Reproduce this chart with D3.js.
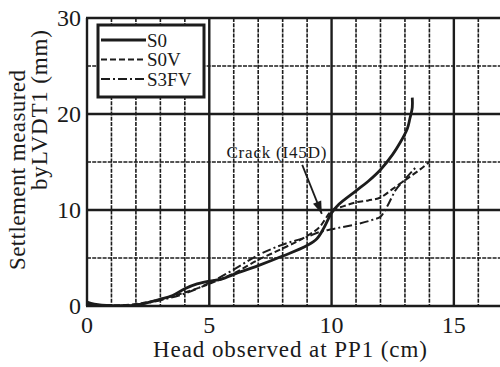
<!DOCTYPE html>
<html>
<head>
<meta charset="utf-8">
<script src="https://cdn.jsdelivr.net/npm/d3@7"></script>
<style>
    body { margin: 0; background: white; }
    svg text { font-family: "Liberation Serif", "Times New Roman", Tinos, Times, serif; fill: #1a1a1a; }
</style>
</head>
<body>
<svg id="grafica"></svg>
<script>
/**
 * Datos (x: cm, y: mm)
 */
const s0X = [0, 0.3, 1, 2, 3, 3.5, 4, 4.5, 5, 5.5, 6, 7, 8, 9, 9.4, 9.7, 10, 10.3, 11, 11.5, 12, 12.5, 12.8, 13.1, 13.2, 13.3, 13.3];
const s0Y = [0.4, 0.2, 0.05, 0.1, 0.7, 1.1, 1.8, 2.3, 2.6, 2.8, 3.3, 4.2, 5.2, 6.3, 7.0, 8.2, 9.7, 10.6, 12.0, 13.0, 14.2, 15.8, 17.0, 18.5, 19.5, 20.7, 21.7];

const s0vX = [0, 1, 2, 3, 4, 5, 6, 7, 8, 9, 9.5, 10, 10.5, 11, 11.5, 12, 12.5, 13, 13.5, 14];
const s0vY = [0.2, 0.05, 0.2, 0.7, 1.4, 2.3, 3.4, 4.8, 6.0, 7.3, 8.2, 9.9, 10.4, 10.8, 11.0, 11.3, 12.2, 13.1, 14.0, 15.0];

const s3fvX = [0, 1, 2, 3, 4, 5, 6, 7, 8, 9, 9.5, 10, 11, 11.7, 12, 12.3, 12.6, 13, 13.5];
const s3fvY = [0.2, 0, 0.15, 0.6, 1.3, 2.4, 3.8, 5.3, 6.4, 7.2, 7.7, 8.0, 8.5, 9.0, 9.3, 10.5, 12.0, 13.2, 14.6];

const xTicks = [0, 5, 10, 15];
const yTicks = [0, 10, 20, 30];
const xMinor = [1, 2, 3, 4, 6, 7, 8, 9, 11, 12, 13, 14, 16, 17];
const yMinor = [5, 15, 25];

const seriesNames = ['S0', 'S0V', 'S3FV'];
const seriesDash = [null, '6,3', '9,3,2,3'];
const seriesWidth = [2.8, 2, 2];

// flecha de la grieta: [inicio, punta] en unidades de datos
const crackArrow = [[8.8, 14.7], [9.6, 9.6]];
const crackLabel = { x: 5.7, y: 15.4, texto: 'Crack (I45D)' };

function graficar(svgId, ancho, alto) {

    /**
     * svg y escalas
     */
    const svg = d3.select('#' + svgId)
        .attr('width', ancho)
        .attr('height', alto)
        .attr('font-family', '"Liberation Serif", "Times New Roman", serif')
        .style('background-color', 'white');

    const x = d3.scaleLinear().domain([0, 17.5]).range([87, 515]);
    const y = d3.scaleLinear().domain([0, 30]).range([306, 18]);
    const tinta = '#1c1c1c';

    svg.append('clipPath').attr('id', 'recorte')
        .append('rect').attr('x', 80).attr('y', 10).attr('width', ancho - 80).attr('height', 300);

    /**
     * Cuadricula (menor punteada, mayor solida)
     */
    const grid = svg.append('g').attr('clip-path', 'url(#recorte)');

    grid.selectAll('line.xmenor').data(xMinor).join('line')
        .attr('x1', d => x(d)).attr('x2', d => x(d))
        .attr('y1', y(30)).attr('y2', y(0))
        .attr('stroke', tinta).attr('stroke-width', 1.6).attr('stroke-dasharray', '4,1.2');

    grid.selectAll('line.ymenor').data(yMinor).join('line')
        .attr('x1', x(0)).attr('x2', ancho)
        .attr('y1', d => y(d)).attr('y2', d => y(d))
        .attr('stroke', tinta).attr('stroke-width', 1.6).attr('stroke-dasharray', '4,1.2');

    grid.selectAll('line.xmayor').data(xTicks).join('line')
        .attr('x1', d => x(d)).attr('x2', d => x(d))
        .attr('y1', y(30)).attr('y2', y(0))
        .attr('stroke', tinta).attr('stroke-width', 2.4);

    grid.selectAll('line.ymayor').data(yTicks).join('line')
        .attr('x1', x(0) - 1).attr('x2', ancho)
        .attr('y1', d => y(d)).attr('y2', d => y(d))
        .attr('stroke', tinta).attr('stroke-width', 2.4);

    /**
     * Etiquetas de los ejes
     */
    svg.append('g').selectAll('text').data(xTicks).join('text')
        .attr('x', d => x(d)).attr('y', 333)
        .attr('text-anchor', 'middle').attr('font-size', 24)
        .text(d => d);

    svg.append('g').selectAll('text').data(yTicks).join('text')
        .attr('x', 81).attr('y', d => y(d) + 8)
        .attr('text-anchor', 'end').attr('font-size', 24)
        .text(d => d);

    svg.append('text')
        .attr('x', 153).attr('y', 357)
        .attr('font-size', 23).attr('textLength', 274)
        .text('Head observed at PP1 (cm)');

    svg.append('text')
        .attr('transform', 'translate(25,270) rotate(-90)')
        .attr('font-size', 23).attr('textLength', 200)
        .text('Settlement measured');

    svg.append('text')
        .attr('transform', 'translate(47,190) rotate(-90)')
        .attr('font-size', 23).attr('textLength', 160)
        .text('byLVDT1 (mm)');

    /**
     * Curvas
     */
    const series = [
        d3.zip(s0X, s0Y),
        d3.zip(s0vX, s0vY),
        d3.zip(s3fvX, s3fvY)
    ];
    const linea = d3.line().x(d => x(d[0])).y(d => y(d[1])).curve(d3.curveMonotoneX);
    const lineaLibre = d3.line().x(d => x(d[0])).y(d => y(d[1])).curve(d3.curveCatmullRom);

    series.forEach((datos, i) => {
        svg.append('path')
            .attr('d', i === 0 ? lineaLibre(datos) : linea(datos))
            .attr('fill', 'none')
            .attr('stroke', tinta)
            .attr('stroke-width', seriesWidth[i])
            .attr('stroke-dasharray', seriesDash[i])
            .attr('stroke-linejoin', 'round');
    });

    /**
     * Anotacion de la grieta
     */
    svg.append('defs').append('marker')
        .attr('id', 'punta').attr('viewBox', '0 0 10 10')
        .attr('refX', 10).attr('refY', 5)
        .attr('markerWidth', 9).attr('markerHeight', 7)
        .attr('orient', 'auto')
        .append('path').attr('d', 'M0,1.5 L10,5 L0,8.5 Z').attr('fill', tinta);

    svg.append('line')
        .attr('x1', x(crackArrow[0][0])).attr('y1', y(crackArrow[0][1]))
        .attr('x2', x(crackArrow[1][0])).attr('y2', y(crackArrow[1][1]))
        .attr('stroke', tinta).attr('stroke-width', 1.8)
        .attr('marker-end', 'url(#punta)');

    svg.append('text')
        .attr('x', x(crackLabel.x)).attr('y', y(crackLabel.y))
        .attr('font-size', 17).attr('textLength', 100)
        .text(crackLabel.texto);

    /**
     * Leyenda
     */
    const leyenda = svg.append('g');
    leyenda.append('rect')
        .attr('x', 98).attr('y', 25).attr('width', 106).attr('height', 72)
        .attr('fill', 'white').attr('stroke', tinta).attr('stroke-width', 3);

    seriesNames.forEach((nombre, i) => {
        const yy = 40 + i * 19.5;
        leyenda.append('line')
            .attr('x1', 101).attr('x2', 146).attr('y1', yy).attr('y2', yy)
            .attr('stroke', tinta).attr('stroke-width', seriesWidth[i])
            .attr('stroke-dasharray', seriesDash[i]);
        leyenda.append('text')
            .attr('x', 147).attr('y', yy + 6.5)
            .attr('font-size', 19)
            .text(nombre);
    });
}

graficar('grafica', 500, 367);
</script>
</body>
</html>
